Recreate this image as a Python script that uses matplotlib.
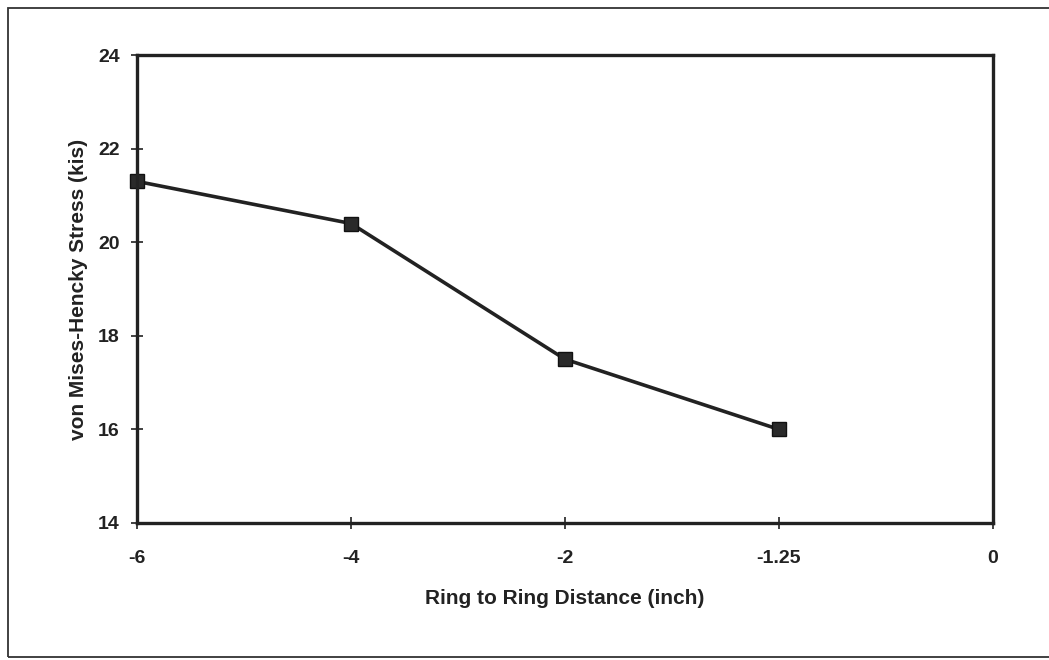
import matplotlib.pyplot as plt
from matplotlib.patches import Rectangle

# data
distance_labels = ['-6', '-4', '-2', '-1.25', '0']
stress = [21.3, 20.4, 17.5, 16.0]

plt.rcParams['font.family'] = ['Liberation Sans', 'DejaVu Sans']

fig = plt.figure(figsize=(10.49, 6.6), dpi=100)
ax = fig.add_axes([0.1306, 0.2076, 0.816, 0.709])

# outer frame round the whole chart
fig.patches.append(Rectangle((0.008, 0.005), 1.1, 0.983, transform=fig.transFigure,
                             fill=False, edgecolor='#333333', linewidth=1.3))

x = list(range(len(stress)))
ax.plot(x, stress, color='#222222', linewidth=2.6, marker='s', markersize=10,
        markerfacecolor='#2a2a2a', markeredgecolor='#111111', clip_on=False)

ax.set_xlim(0, len(distance_labels) - 1)
ax.set_ylim(14, 24)
ax.set_xticks(range(len(distance_labels)))
ax.set_xticklabels(distance_labels)
ax.set_yticks([14, 16, 18, 20, 22, 24])

for s in ax.spines.values():
    s.set_linewidth(2.4)
    s.set_color('#222222')
ax.tick_params(direction='inout', length=9, width=1.3, color='#333333',
               labelsize=14)
ax.tick_params(axis='x', pad=15)
ax.tick_params(axis='y', pad=8)
for lab in ax.get_xticklabels() + ax.get_yticklabels():
    lab.set_fontweight('bold')
    lab.set_color('#222222')

ax.set_xlabel('Ring to Ring Distance (inch)', fontsize=15, fontweight='bold',
              color='#222222', labelpad=16)
ax.set_ylabel('von Mises-Hencky Stress (kis)', fontsize=15, fontweight='bold',
              color='#222222', labelpad=7)

fig.savefig('out.png', dpi=100)
